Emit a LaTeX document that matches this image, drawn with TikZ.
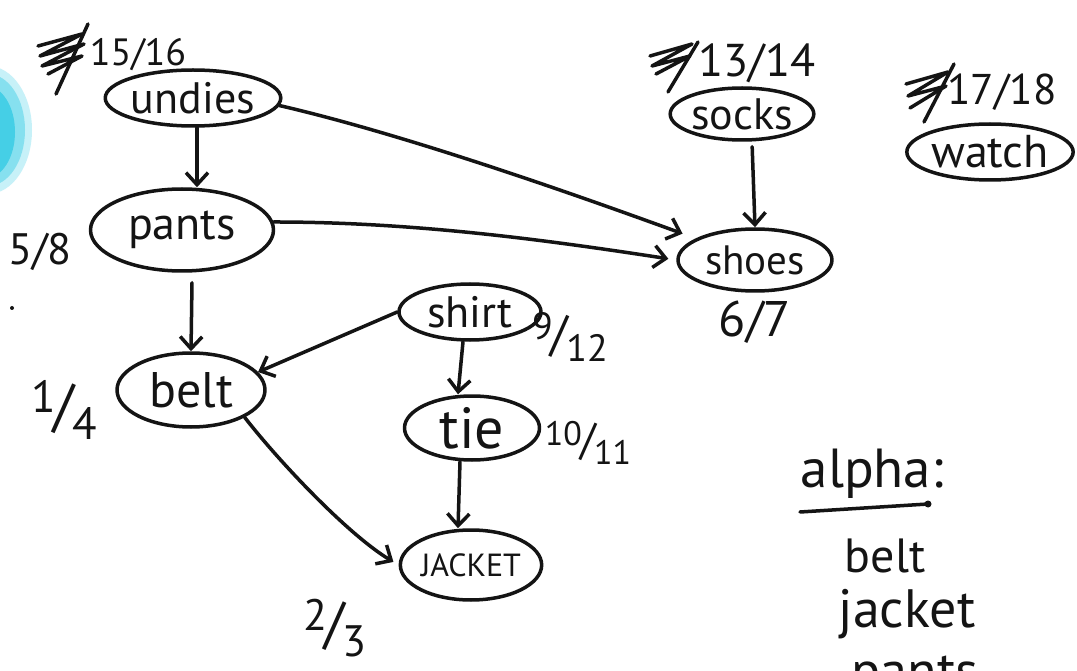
\documentclass[tikz,border=0pt]{standalone}
\usepackage{fontspec}
\setmainfont{PT Sans}
\usetikzlibrary{shapes.geometric,arrows.meta}
\definecolor{inkc}{HTML}{141414}
\definecolor{marker}{HTML}{45CFE6}
\newcommand\fsz[1]{\fontsize{#1}{#1}\selectfont}
% stacked hand-written fraction
\newcommand\hfrac[2]{\raisebox{0.28em}{#1}\kern-0.05em{\fontsize{1.3em}{1.3em}\selectfont/}\kern-0.05em\raisebox{-0.3em}{#2}}
\tikzset{
  ink/.style={line width=3.5pt, draw=inkc, line cap=round, line join=round},
  blob/.style={ellipse, ink, inner sep=0pt, text=inkc},
  arr/.style={ink, -{Straight Barb[length=12pt,width=22pt]}},
  lbl/.style={text=inkc, inner sep=0pt, font=\fsz{40}},
}
\begin{document}
\begin{tikzpicture}[x=1pt,y=-1pt]
\clip (0,0) rectangle (1077,671);
\fill[white] (0,0) rectangle (1077,671);

% marker smudge on the left edge
\fill[marker!30] (-12,130) ellipse [x radius=44, y radius=64];
\fill[marker!65] (-12,130) ellipse [x radius=37, y radius=56];
\fill[marker] (-14,132) ellipse [x radius=29, y radius=46];
\fill[inkc] (12,308) circle (2);

% garments
\node[blob, minimum width=168pt, minimum height=56pt] (undies) at (193,98) {\fsz{44}undies};
\node[blob, minimum width=183pt, minimum height=82pt] (pants) at (182,230) {\fsz{46}pants};
\node[blob, minimum width=148pt, minimum height=74pt] (belt) at (191,390) {\fsz{50}belt};
\node[blob, minimum width=142pt, minimum height=56pt] (shirt) at (470,312) {\fsz{44}shirt};
\node[blob, minimum width=135pt, minimum height=64pt] (tie) at (472,428) {\fsz{58}tie};
\node[blob, minimum width=140pt, minimum height=70pt] (jacket) at (471,565) {\fsz{32}JACKET};
\node[blob, minimum width=140pt, minimum height=52pt] (socks) at (742,114) {\fsz{44}socks};
\node[blob, minimum width=154pt, minimum height=62pt] (shoes) at (755,260) {\fsz{41}shoes};
\node[blob, minimum width=165pt, minimum height=56pt] (watch) at (990,152) {\fsz{46}watch};

% discovery / finish times
\node[lbl, font=\fsz{38}] (tundies) at (138,55) {15/16};
\node[lbl, font=\fsz{46}] (tsocks) at (757,63) {13/14};
\node[lbl, font=\fsz{43}] (twatch) at (1002,92) {17/18};
\node[lbl, font=\fsz{44}] (tpants) at (40,252) {5/8};
\node[lbl, font=\fsz{45}] (tbelt) at (64,410) {\hfrac{1}{4}};
\node[lbl, font=\fsz{38}] (tshirt) at (570,337) {\hfrac{9}{12}};
\node[lbl, font=\fsz{34}] (ttie) at (588,443) {\hfrac{10}{11}};
\node[lbl, font=\fsz{44}] (tjacket) at (335,628) {\hfrac{2}{3}};
\node[lbl, font=\fsz{50}] (tshoes) at (755,322) {6/7};

% crossed-out earlier times
\draw[ink] (38,46) -- (82,34) -- (40,56) -- (84,44) -- (42,66) -- (82,56) -- (48,74);
\draw[ink] (88,24) -- (56,94);
\draw[ink] (650,56) -- (692,44) -- (652,66) -- (690,56) -- (656,74);
\draw[ink] (698,42) -- (668,92);
\draw[ink] (906,84) -- (948,72) -- (908,96) -- (946,86) -- (910,108);
\draw[ink] (954,64) -- (924,122);

% edges
\draw[arr] ([xshift=4pt]undies.south) -- ([xshift=15pt]pants.north);
\draw[arr] ([xshift=10pt]pants.south) ++(0,10) -- (belt.north);
\draw[arr, shorten >=14pt] (undies.-5) .. controls +(130,30) and +(-110,-40) .. (shoes.160);
\draw[arr, shorten >=8pt] (pants.5) .. controls +(140,0) and +(-130,-20) .. (shoes.west);
\draw[arr] (shirt.west) -- (belt.15);
\draw[arr] ([xshift=-7pt]shirt.south) -- ([xshift=-14pt]tie.north);
\draw[arr] ([xshift=-12pt]tie.south) -- ([xshift=-13pt]jacket.north);
\draw[arr, shorten >=6pt] (belt.-27) .. controls +(35,45) and +(-50,-30) .. (jacket.west);
\draw[arr, shorten <=5pt] ([xshift=10pt]socks.south) -- (shoes.north);

% alphabetical list
\node[lbl, font=\fsz{55}] (alpha) at (872,474) {alpha:};
\draw[ink] (800,512) -- (928,504);
\fill[inkc] (928,504) circle (3.5);
\node[lbl, font=\fsz{48}] (lbelt) at (885,556) {belt};
\node[lbl, font=\fsz{54}] (ljacket) at (907,614) {jacket};
\node[lbl, font=\fsz{54}] (lpants) at (915,678) {pants};
\end{tikzpicture}
\end{document}
